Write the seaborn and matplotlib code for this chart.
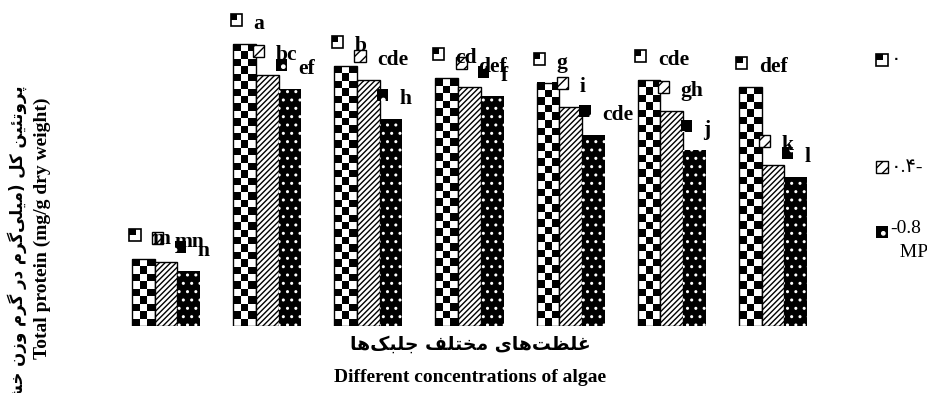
import numpy as np
import pandas as pd
import matplotlib
matplotlib.use('Agg')
import matplotlib.pyplot as plt
import seaborn as sns
from matplotlib.patches import Rectangle
from matplotlib.offsetbox import DrawingArea, AnnotationBbox

# data (no y scale is printed, units are relative)
algae = ['A0', 'A1', 'A2', 'A3', 'A4', 'A5', 'A6']
stress = ['0', '-0.4', '-0.8']
protein_0 = [0.67, 2.82, 2.60, 2.48, 2.43, 2.46, 2.39]
protein_04 = [0.64, 2.51, 2.46, 2.39, 2.19, 2.15, 1.61]
protein_08 = [0.55, 2.37, 2.07, 2.30, 1.91, 1.76, 1.49]
letters_0 = ['m', 'a', 'b', 'cd', 'g', 'cde', 'def']
letters_04 = ['mn', 'bc', 'cde', 'def', 'i', 'gh', 'k']
letters_08 = ['n', 'ef', 'h', 'f', 'cde', 'j', 'l']
legend_labels = ['\u0660', '\u0660.\u06f4-', '-0.8\n  MPa']

y_label_fa = 'پروتئین کل (میلی\u200cگرم در گرم وزن خشک)'
y_label_en = 'Total protein (mg/g dry weight)'
x_label_fa = 'غلظت\u200cهای مختلف جلبک\u200cها'
x_label_en = 'Different concentrations of algae'

# minimal persian shaping (matplotlib has no bidi / joining)
FORMS = {
    'ا': '\ufe8d\ufe8e', 'د': '\ufea9\ufeaa', 'ر': '\ufead\ufeae',
    'ز': '\ufeaf\ufeb0', 'و': '\ufeed\ufeee',
    'ب': '\ufe8f\ufe90\ufe91\ufe92', 'پ': '\ufb56\ufb57\ufb58\ufb59',
    'ت': '\ufe95\ufe96\ufe97\ufe98', 'ج': '\ufe9d\ufe9e\ufe9f\ufea0',
    'خ': '\ufea5\ufea6\ufea7\ufea8', 'ش': '\ufeb5\ufeb6\ufeb7\ufeb8',
    'ظ': '\ufec5\ufec6\ufec7\ufec8', 'غ': '\ufecd\ufece\ufecf\ufed0',
    'ف': '\ufed1\ufed2\ufed3\ufed4', 'ک': '\ufb8e\ufb8f\ufb90\ufb91',
    'گ': '\ufb92\ufb93\ufb94\ufb95', 'ل': '\ufedd\ufede\ufedf\ufee0',
    'م': '\ufee1\ufee2\ufee3\ufee4', 'ن': '\ufee5\ufee6\ufee7\ufee8',
    'ه': '\ufee9\ufeea\ufeeb\ufeec', 'ی': '\ufbfc\ufbfd\ufbfe\ufbff',
    'ئ': '\ufe89\ufe8a\ufe8b\ufe8c',
}


def shape_fa(text):
    out = []
    for i, c in enumerate(text):
        if c not in FORMS:
            out.append(c)
            continue
        prev = text[i - 1] if i > 0 else ''
        nxt = text[i + 1] if i + 1 < len(text) else ''
        join_prev = prev in FORMS and len(FORMS[prev]) == 4
        join_next = len(FORMS[c]) == 4 and nxt in FORMS
        f = FORMS[c]
        if join_prev and join_next:
            out.append(f[3])
        elif join_prev:
            out.append(f[1])
        elif join_next:
            out.append(f[2])
        else:
            out.append(f[0])
    s = ''.join(out).replace('\u200c', '')[::-1]
    return s.translate(str.maketrans('()', ')('))


df = pd.DataFrame({
    'algae': np.repeat(algae, 3),
    'stress': stress * len(algae),
    'protein': np.column_stack([protein_0, protein_04, protein_08]).ravel(),
})

W, H, DPI = 927, 393, 100
fig = plt.figure(figsize=(W / DPI, H / DPI), dpi=DPI)
ax = fig.add_axes([115.5 / W, 1 - 326 / H, 708 / W, 306 / H])

sns.barplot(data=df, x='algae', y='protein', hue='stress', order=algae,
            hue_order=stress, palette=['white', 'white', 'black'],
            saturation=1, width=0.673, gap=0, errorbar=None,
            edgecolor='black', linewidth=1, legend=False, ax=ax)
ax.set_xlim(-0.5, 6.5)
ax.set_ylim(0, 3.06)
ax.set_autoscale_on(False)
ax.axis('off')

px_per_x, px_per_y = np.diff(ax.transData.transform([(0, 0), (1, 1)]), axis=0)[0]
cell = 7.5  # checker cell, pixels


def key_box(kind):
    da = DrawingArea(8, 8, 0, 0)
    if kind == 0:
        da.add_artist(Rectangle((0, 0), 8, 8, fc='white', ec='black', lw=1.2))
        da.add_artist(Rectangle((0, 4), 4.5, 4, fc='black', ec='none'))
    elif kind == 1:
        da.add_artist(Rectangle((0, 0), 8, 8, fc='white', ec='black', lw=1, hatch='///'))
    else:
        da.add_artist(Rectangle((0, 0), 8, 8, fc='black', ec='white', lw=0, hatch='.'))
    return da


pt = 72 / DPI  # pixels -> points
letters = [letters_0, letters_04, letters_08]
for k, cont in enumerate(ax.containers):
    for j, bar in enumerate(cont.patches):
        x0, w, h = bar.get_x(), bar.get_width(), bar.get_height()
        if k == 0:
            bar.set_facecolor('none')
            ncol = max(1, round(w * px_per_x / cell))
            nrow = max(1, round(h * px_per_y / cell))
            board = (np.indices((nrow, ncol)).sum(axis=0) + 1) % 2
            ax.imshow(board, cmap='gray_r', vmin=0, vmax=1, extent=(x0, x0 + w, 0, h),
                      origin='upper', aspect='auto', interpolation='nearest',
                      zorder=0.5)
        elif k == 1:
            bar.set_hatch('//////')
        else:
            bar.set_hatch('..')
            bar.set_edgecolor('white')
            bar.set_linewidth(0)
        # significance letter with a small key, like the excel data labels
        ab = AnnotationBbox(key_box(k), (x0, h), xybox=(3 * pt, 24 * pt),
                            boxcoords='offset points', frameon=False, pad=0,
                            box_alignment=(0.5, 0.5), zorder=3)
        ax.add_artist(ab)
        ax.annotate(letters[k][j], (x0, h), xytext=(20 * pt, 20 * pt),
                    textcoords='offset points', ha='left', va='center',
                    fontsize=15.5, fontweight='bold', family='Liberation Serif',
                    zorder=4)

# legend drawn by hand (it is cut at the right edge in the original)
leg_y = [60, 167, 232]
for k, (lab, yy) in enumerate(zip(legend_labels, leg_y)):
    ab = AnnotationBbox(key_box(k), (882 / W, 1 - yy / H), xycoords='figure fraction',
                        frameon=False, pad=0, box_alignment=(0.5, 0.5))
    fig.add_artist(ab)
    if '\n' in lab:
        fig.text(890 / W, 1 - (yy - 12) / H, lab, ha='left', va='top', fontsize=14,
                 family=['Liberation Serif', 'DejaVu Sans'], linespacing=1.55)
    else:
        fig.text(891 / W, 1 - yy / H, lab, ha='left', va='center', fontsize=14,
                 family=['Liberation Serif', 'DejaVu Sans'])

fig.text(17 / W, 1 - 255 / H, shape_fa(y_label_fa), rotation=90, ha='center',
         va='center', fontsize=12, fontweight='bold', family='DejaVu Sans')
fig.text(42 / W, 1 - 228 / H, y_label_en, rotation=90, ha='center', va='center',
         fontsize=14, fontweight='bold', family='Liberation Serif')
fig.text(470 / W, 1 - 344 / H, shape_fa(x_label_fa), ha='center', va='center',
         fontsize=13.5, fontweight='bold', family='DejaVu Sans')
fig.text(470 / W, 1 - 378 / H, x_label_en, ha='center', va='center',
         fontsize=14, fontweight='bold', family='Liberation Serif')

fig.savefig('out.png', dpi=DPI)
